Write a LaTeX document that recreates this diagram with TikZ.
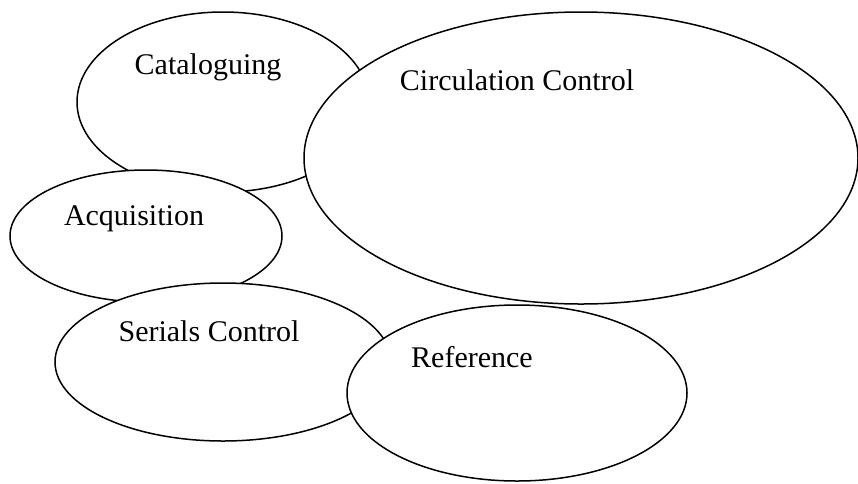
\documentclass[tikz,border=0pt]{standalone}
\usepackage{fontspec}
\setmainfont{Liberation Serif}
\usetikzlibrary{shapes.geometric}
\begin{document}
\begin{tikzpicture}[
        % 1 unit = 1pt, y grows downward
        x=1pt, y=-1pt,
        % module bubble: black outline, white fill
        module/.style={
            ellipse,
            draw=black,
            fill=white,
            line width=1.5pt,
            inner sep=0pt
        },
        % module name
        modlabel/.style={
            anchor=base,
            inner sep=0pt,
            font=\fontsize{30}{36}\selectfont
        }
    ]
        \useasboundingbox (0,0) rectangle (858,483);

        % --- 1. bubbles, back to front ---
        \node[module, minimum width=292pt, minimum height=180pt] (cat) at (223,102) {};
        \node[module, minimum width=554pt, minimum height=292pt] (circ) at (581,158) {};
        \node[module, minimum width=272pt, minimum height=132pt] (acq) at (146,236) {};
        \node[module, minimum width=336pt, minimum height=158pt] (ser) at (223,362) {};
        \node[module, minimum width=340pt, minimum height=176pt] (ref) at (517,393) {};

        % --- 2. names ---
        \node[modlabel] (catname) at (208,74) {Cataloguing};
        \node[modlabel] (circname) at (517,90) {Circulation Control};
        \node[modlabel] (acqname) at (134,225) {Acquisition};
        \node[modlabel] (sername) at (209,341) {Serials Control};
        \node[modlabel] (refname) at (472,367) {Reference};

    \end{tikzpicture}
\end{document}
